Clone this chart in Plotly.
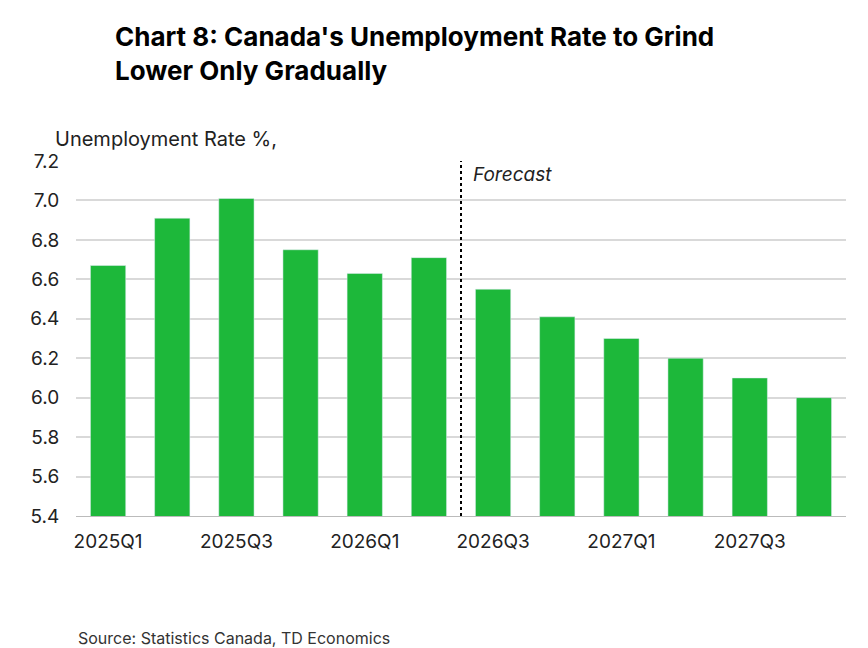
import plotly.graph_objects as go

quarters = ["2025Q1","2025Q2","2025Q3","2025Q4","2026Q1","2026Q2",
            "2026Q3","2026Q4","2027Q1","2027Q2","2027Q3","2027Q4"]
rates = [6.67, 6.91, 7.01, 6.75, 6.63, 6.71, 6.55, 6.41, 6.30, 6.20, 6.10, 6.00]
tick_labels = ["2025Q1","2025Q3","2026Q1","2026Q3","2027Q1","2027Q3"]
y_ticks = [5.4, 5.6, 5.8, 6.0, 6.2, 6.4, 6.6, 6.8, 7.0, 7.2]

fig = go.Figure(go.Bar(x=quarters, y=rates, marker_color="#1DB83A", width=0.55))

fig.add_shape(type="line", x0=5.5, x1=5.5, xref="x", y0=0, y1=1, yref="paper",
              line=dict(color="black", width=2, dash="dot"))
fig.add_annotation(x=5.65, xref="x", y=7.13, yref="y", text="<i>Forecast</i>",
                   showarrow=False, xanchor="left", yanchor="middle",
                   font=dict(size=19, color="#222"))
fig.add_annotation(x=-26/868, xref="paper", y=1.0, yref="paper", yshift=8,
                   text="Unemployment Rate %,", showarrow=False, xanchor="left",
                   yanchor="bottom", font=dict(size=20))
fig.add_annotation(x=0, xref="paper", y=0, yref="paper", yshift=-122,
                   text="Source: Statistics Canada, TD Economics", showarrow=False,
                   xanchor="left", yanchor="middle", font=dict(size=16, color="#333"))
fig.add_annotation(x=42/868, xref="paper", y=1, yref="paper", yshift=142,
                   text="<b>Chart 8: Canada's Unemployment Rate to Grind<br>Lower Only Gradually</b>",
                   showarrow=False, xanchor="left", yanchor="top", align="left",
                   font=dict(size=26, color="black"))

fig.update_layout(
    width=868, height=648, plot_bgcolor="white", paper_bgcolor="white",
    margin=dict(l=68, r=30, t=153, b=140),
    font=dict(family="Inter, Lato, sans-serif", size=19, color="#222"),
    showlegend=False, bargap=0.45,
    xaxis=dict(tickmode="array", tickvals=tick_labels, ticktext=tick_labels,
               showgrid=False, linecolor="#bbb", ticks="outside", ticklen=8,
               tickcolor="rgba(0,0,0,0)", tickfont=dict(size=19)),
    yaxis=dict(range=[5.4, 7.2], tickvals=y_ticks,
               ticktext=[f"{v:.1f}" for v in y_ticks], gridcolor="#d9d9d9",
               gridwidth=1.5, zeroline=False, ticks="outside", ticklen=12,
               tickcolor="rgba(0,0,0,0)", tickfont=dict(size=19)),
)
fig.write_html("out.html")
